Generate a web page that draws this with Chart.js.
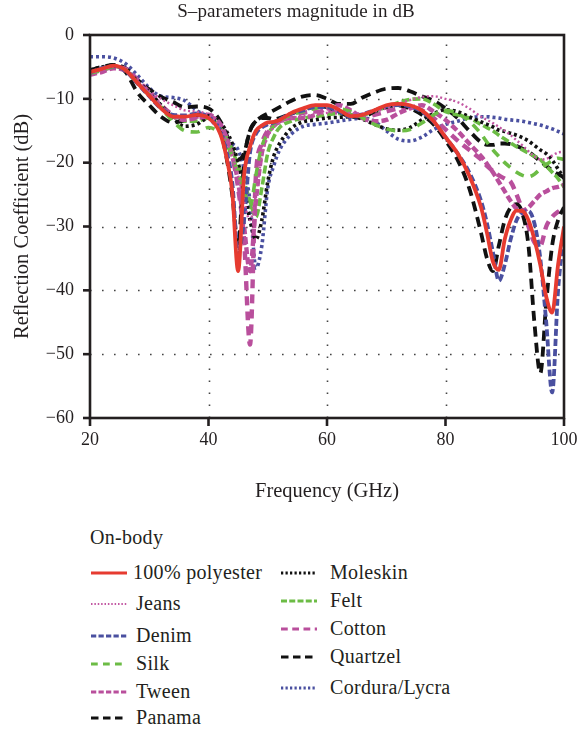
<!DOCTYPE html>
<html>
<head>
<meta charset="utf-8">
<script src="https://cdn.jsdelivr.net/npm/chart.js@4.4.1/dist/chart.umd.min.js"></script>
<style>
html,body{margin:0;padding:0;background:#fff;}
#wrap{position:relative;width:578px;height:729px;font-family:"Liberation Serif","Times New Roman",serif;color:#231f20;overflow:hidden;}
#cv{position:absolute;left:0;top:0;}
.title{position:absolute;left:0;width:592px;top:0;text-align:center;font-size:19px;line-height:22px;letter-spacing:0.1px;}
.lg{position:absolute;font-size:20px;line-height:24px;letter-spacing:0.3px;white-space:nowrap;font-family:"Liberation Serif","Times New Roman",serif;}
.sw{position:absolute;width:36px;height:8px;}
</style>
</head>
<body>
<div id="wrap">
  <canvas id="cv" width="578" height="510"></canvas>
  <div class="title">S–parameters magnitude in dB</div>
  <div id="legend"></div>
</div>
<script>
// ---- data ----
const freq = [20,22,24,26,28,30,32,34,36,38,40,
  42,43,44,45,46,47,48,49,50,51,52,
  54,56,58,60,62,64,66,68,70,72,74,76,78,80,82,84,
  86,87,88,89,90,91,92,93,94,95,96,97,98,99,100];

const polyester = [-5.8,-5.3,-4.8,-5.5,-7.5,-9.5,-11.5,-12.8,-12.8,-12.5,-13,
  -15.5,-19,-24.5,-37,-22,-17.5,-15,-14.2,-13.7,-13.6,-13.3,
  -12.2,-11.5,-11,-11,-11.7,-12.7,-12.5,-11.8,-11,-10.8,-11,-11.8,-13.5,-16,-18.5,-22,
  -27,-31,-35.5,-36.8,-32,-29,-27.5,-27.6,-29,-32,-36,-41,-43.5,-36,-30];
const jeans = [-6,-5.5,-5,-5.5,-7.3,-8.8,-10,-11,-11.8,-12,-12.5,
  -14.5,-16.5,-19,-22,-26,-29,-25,-19,-16,-14.5,-13.8,
  -13,-12.7,-12.5,-12.2,-12,-12.2,-12.3,-12,-11.5,-10.8,-10.2,-9.7,-9.6,-10,-10.5,-11.5,
  -12.8,-13.3,-13.8,-14.4,-15,-15.7,-16.5,-17.3,-18.2,-19,-19.5,-19.4,-18.9,-18.4,-18.3];
const denim = [-5.9,-5.2,-4.9,-5.6,-7.6,-9.6,-11.5,-12.5,-12.6,-12.3,-12.8,
  -15,-18,-23,-34,-29,-18.5,-15.5,-14.5,-14,-13.7,-13.2,
  -12.3,-11.8,-11.3,-11.3,-12,-12.8,-12.4,-11.8,-11.2,-11,-11.2,-12,-13.6,-16,-18.5,-21.5,
  -26,-29.5,-34,-38.5,-36,-32,-29,-27.8,-27.6,-29.5,-35,-45,-56,-40,-31];
const silk = [-6,-5.5,-5,-5.5,-7.5,-9.5,-11.5,-13.5,-15,-15.2,-14.5,
  -15.5,-17,-19,-21.5,-24.5,-27,-22,-17.5,-15.5,-14.3,-13.5,
  -12.5,-12,-11.5,-11.2,-11.5,-12,-13,-14,-14.7,-15,-14.8,-13.8,-12.5,-11.8,-12.3,-13.5,
  -15.5,-16.8,-18,-19,-20,-20.8,-21.5,-22,-22.2,-21.8,-21,-20.3,-19.7,-19.3,-19.5];
const tween = [-6.2,-5.8,-5.2,-5.6,-7.4,-9.3,-11.3,-12.7,-13.3,-13,-12.8,
  -14,-16,-19,-23,-30,-37,-26,-18.5,-15.5,-14.2,-13.5,
  -13,-13,-12.5,-11.5,-11,-11.8,-13,-13.5,-13.3,-12.3,-11.5,-11,-12,-13.3,-15,-17,
  -19,-20.2,-21.5,-23,-24.5,-26,-27.2,-27.5,-27,-26,-25,-24.5,-24,-23.8,-23.5];
const panama = [-5.5,-5,-4.7,-5.8,-9,-11,-12.8,-13.7,-13.3,-12.5,-12.7,
  -15,-19,-25,-33,-20,-15,-13.5,-13,-13,-13.2,-13,
  -12.3,-11.7,-11.2,-11.3,-12,-12.8,-12.8,-12,-11.3,-11,-11.5,-12.5,-14,-16.5,-19.5,-24,
  -31,-35,-37,-33,-29,-27,-26.5,-28,-33,-45,-53,-42,-33,-29,-27];
const moleskin = [-5.5,-5,-4.8,-5.5,-7.2,-9,-11,-13,-14.3,-14,-13,
  -13.8,-15,-17,-20,-24,-29,-32,-29,-23,-19,-17,
  -14.6,-13.6,-13.3,-13,-12.9,-12.8,-13.2,-14,-14.7,-14.9,-14.5,-13.3,-12.3,-11.7,-12,-12.8,
  -13.6,-14,-14.4,-14.9,-15.1,-15.4,-15.7,-16.1,-16.6,-17.3,-18,-18.6,-19.6,-21,-22.5];
const felt = [-5.8,-5.3,-4.9,-5.6,-7.5,-9.3,-11.2,-12.8,-13.5,-13.5,-13,
  -14.5,-16,-18,-20.5,-23,-26,-28.5,-24,-18.5,-16,-14.5,
  -13.5,-13,-12.8,-12.5,-12.3,-12.5,-12.5,-12,-11.3,-10.6,-10.1,-10,-10.8,-12,-12.5,-13,
  -14,-14.5,-15,-15.7,-16.3,-16.9,-17.5,-18,-18.5,-19,-19.5,-20.5,-21.5,-22.5,-23.8];
const cotton = [-6,-5.5,-5,-5.3,-7,-9,-11,-12.5,-13,-12.8,-12.5,
  -14,-16,-19,-24,-32,-48.5,-22,-17,-15,-14.2,-13.6,
  -12.8,-12.2,-12,-12,-12.2,-12.5,-13,-12.5,-12,-11.5,-11.3,-11.8,-13,-14.8,-16.5,-18,
  -19.5,-20.5,-21.3,-22,-22.5,-23,-25,-27.5,-30,-32.5,-33,-30,-28.5,-27.7,-27];
const quartzel = [-5.8,-5.3,-4.7,-5.2,-7,-8.5,-9.7,-10.5,-11.3,-11.2,-11.5,
  -13.5,-15.5,-18,-19.5,-18.5,-15,-13.5,-12.8,-12.3,-11.8,-11.3,
  -10.3,-9.6,-9.4,-10,-10.8,-10.8,-9.8,-9,-8.4,-8.3,-8.8,-9.6,-10.3,-11.5,-13,-15,
  -16.8,-17.2,-17.2,-17,-17,-17.1,-17.4,-17.8,-18.3,-19,-19.8,-20.5,-21.2,-21.8,-22.3];
const cordura = [-3.4,-3.4,-3.6,-4.5,-6.3,-8.3,-9.6,-9.8,-10.3,-11.8,-13,
  -15,-16.2,-17,-18,-21,-26,-36.5,-33,-24,-20.5,-18,
  -15.5,-14.3,-14,-13.8,-13.5,-13.2,-13,-13.5,-15,-16.3,-16.6,-16,-14.8,-14,-13.5,-13,
  -12.8,-12.8,-12.9,-13,-13.2,-13.3,-13.4,-13.5,-13.7,-13.9,-14.1,-14.4,-14.7,-15.1,-15.5];

const xTicks = [20, 40, 60, 80, 100];
const yTicks = [0, -10, -20, -30, -40, -50, -60];

// ---- styles ----
const RED = '#e63b30', MAG = '#b94f9c', BLUE = '#4a50a0', GREEN = '#6cbc45', BLK = '#111111';
const series = [
  {label:'100% polyester', data:polyester, color:RED,  dash:[],        w:3.8, lw:3},
  {label:'Jeans',          data:jeans,     color:'#c257a2', dash:[2,2.5], w:2.4, lw:2},
  {label:'Denim',          data:denim,     color:BLUE, dash:[7,3],     w:3.8, lw:3},
  {label:'Silk',           data:silk,      color:GREEN,dash:[9,7],     w:3.6, lw:3},
  {label:'Tween',          data:tween,     color:MAG,  dash:[7,3],     w:4.4, lw:3},
  {label:'Panama',         data:panama,    color:BLK,  dash:[10,6],    w:3.8, lw:3},
  {label:'Moleskin',       data:moleskin,  color:BLK,  dash:[3,3],     w:3.6, lw:3},
  {label:'Felt',           data:felt,      color:GREEN,dash:[8,3],     w:3.6, lw:3},
  {label:'Cotton',         data:cotton,    color:MAG,  dash:[9,6],     w:4.4, lw:3},
  {label:'Quartzel',       data:quartzel,  color:BLK,  dash:[10,6],    w:3.8, lw:3},
  {label:'Cordura/Lycra',  data:cordura,   color:BLUE, dash:[3,3],     w:3.6, lw:3},
];

const datasets = series.map((s, i) => ({
  label: s.label,
  data: freq.map((f, k) => ({x: f, y: s.data[k]})),
  borderColor: s.color,
  borderWidth: s.w,
  borderDash: s.dash,
  pointRadius: 0,
  fill: false,
  cubicInterpolationMode: 'monotone',
  order: i
}));

const FONT = '"Liberation Serif","Times New Roman",serif';
const INK = '#231f20';

const frame = {
  id: 'frame',
  beforeDatasetsDraw(chart) {
    const {ctx, chartArea: a, scales: {x, y}} = chart;
    ctx.save();
    ctx.strokeStyle = '#444';
    ctx.lineWidth = 1.6;
    ctx.setLineDash([1.6, 10.4]);
    xTicks.slice(1, -1).forEach(v => {
      const px = Math.round(x.getPixelForValue(v)) + 0.5;
      ctx.beginPath(); ctx.moveTo(px, a.bottom); ctx.lineTo(px, a.top); ctx.stroke();
    });
    yTicks.slice(1, -1).forEach(v => {
      const py = Math.round(y.getPixelForValue(v)) + 0.5;
      ctx.beginPath(); ctx.moveTo(a.left, py); ctx.lineTo(a.right, py); ctx.stroke();
    });
    ctx.restore();
  },
  afterDatasetsDraw(chart) {
    const {ctx, chartArea: a, scales: {x, y}} = chart;
    ctx.save();
    ctx.strokeStyle = INK;
    ctx.lineWidth = 2.6;
    ctx.setLineDash([]);
    ctx.strokeRect(a.left, a.top, a.right - a.left, a.bottom - a.top);
    xTicks.forEach(v => {
      const px = x.getPixelForValue(v);
      ctx.beginPath(); ctx.moveTo(px, a.bottom); ctx.lineTo(px, a.bottom + 8); ctx.stroke();
    });
    yTicks.forEach(v => {
      const py = y.getPixelForValue(v);
      ctx.beginPath(); ctx.moveTo(a.left, py); ctx.lineTo(a.left - 7, py); ctx.stroke();
    });
    ctx.restore();
  }
};

new Chart(document.getElementById('cv'), {
  type: 'line',
  data: { datasets },
  plugins: [frame],
  options: {
    responsive: false,
    animation: false,
    devicePixelRatio: 1,
    layout: { padding: { left: 0, top: 35, right: 14, bottom: 0 } },
    plugins: { legend: { display: false }, title: { display: false }, tooltip: { enabled: false } },
    scales: {
      x: {
        type: 'linear', min: 20, max: 100,
        afterBuildTicks: s => { s.ticks = xTicks.map(v => ({value: v})); },
        afterFit: s => { s.height = 92; s.paddingLeft = 0; s.paddingRight = 0; },
        grid: { display: false, drawTicks: false },
        border: { display: false },
        ticks: { color: INK, font: { family: FONT, size: 18 }, padding: 11, maxRotation: 0, autoSkip: false },
        title: { display: true, text: 'Frequency (GHz)', color: INK, font: { family: FONT, size: 20.5 }, padding: { top: 0, bottom: 6 } }
      },
      y: {
        type: 'linear', min: -60, max: 0,
        afterBuildTicks: s => { s.ticks = yTicks.map(v => ({value: v})); },
        afterFit: s => { s.width = 90; s.paddingTop = 0; s.paddingBottom = 0; },
        grid: { display: false, drawTicks: false },
        border: { display: false },
        ticks: { color: INK, font: { family: FONT, size: 18 }, padding: 16, autoSkip: false,
                 callback: v => String(v).replace('-', '\u2212') },
        title: { display: true, text: 'Reflection Coefficient (dB)', color: INK, font: { family: FONT, size: 20.5 }, padding: { top: 10, bottom: 0 } }
      }
    }
  }
});

// ---- HTML legend ----
const lg = document.getElementById('legend');
function addText(txt, left, cy) {
  const d = document.createElement('div');
  d.className = 'lg'; d.textContent = txt;
  d.style.left = left + 'px'; d.style.top = (cy - 13) + 'px';
  lg.appendChild(d);
}
function addSwatch(s, left, cy) {
  const ns = 'http://www.w3.org/2000/svg';
  const svg = document.createElementNS(ns, 'svg');
  svg.setAttribute('class', 'sw');
  svg.setAttribute('width', '36'); svg.setAttribute('height', '8');
  svg.style.left = left + 'px'; svg.style.top = (cy - 4) + 'px';
  const ln = document.createElementNS(ns, 'line');
  ln.setAttribute('x1', '0'); ln.setAttribute('x2', '36');
  ln.setAttribute('y1', '4'); ln.setAttribute('y2', '4');
  ln.setAttribute('stroke', s.color);
  ln.setAttribute('stroke-width', s.lw);
  if (s.dash.length) ln.setAttribute('stroke-dasharray', s.dash.map(v => v * 0.75).join(' '));
  svg.appendChild(ln);
  lg.appendChild(svg);
}
addText('On-body', 90, 538);
const leftRows = [573, 604, 636, 664, 692, 718];
const rightRows = [573, 601, 629, 657, 688];
series.forEach((s, i) => {
  if (i < 6) {
    addSwatch(s, 91, leftRows[i]);
    addText(s.label, i === 0 ? 133 : 136, leftRows[i]);
  } else {
    addSwatch(s, 281, rightRows[i - 6]);
    addText(s.label, 330, rightRows[i - 6]);
  }
});
</script>
</body>
</html>
